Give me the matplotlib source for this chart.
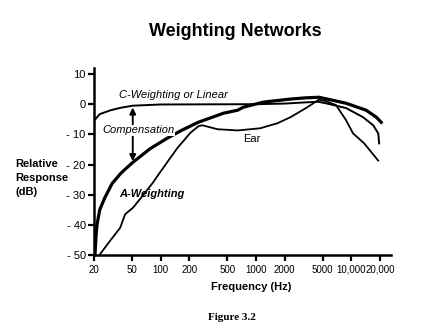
import numpy as np
import matplotlib
matplotlib.use('Agg')
import matplotlib.pyplot as plt

plt.rcParams['font.family'] = ['Liberation Sans', 'DejaVu Sans']

# values (frequency in Hz, response in dB)
c_freq = [20, 23, 30, 38, 51, 100, 1000, 2000, 3300, 4500, 5400, 6900, 8800, 13200, 16900, 19100, 19500]
c_db = [-5.5, -3.3, -2.0, -1.2, -0.5, -0.1, 0.0, 0.2, 0.6, 0.8, 0.3, -0.5, -1.3, -4.3, -7.0, -9.7, -13.0]

a_freq = [20.5, 21, 21.5, 23, 26, 31, 38, 42, 51, 78, 117, 165, 248, 455, 640, 736, 1200, 2300, 3300,
          4560, 8800, 14250, 18200, 20500]
a_db = [-50, -44, -40, -35, -31, -26.3, -23, -21.7, -19.3, -14.7, -11.3, -8.7, -6, -3, -2, -1, 0.7, 1.7, 2.1,
        2.3, 0.3, -2.0, -4.3, -6.0]

ear_freq = [23.2, 29.5, 37.6, 42.4, 51.4, 65, 83, 98, 150, 205, 249, 274, 333, 394, 640, 1100, 1680, 2300,
            3330, 4560, 5400, 6890, 8770, 10400, 13600, 19060]
ear_db = [-49.7, -45.3, -41, -36.5, -34.3, -30.3, -26, -22.7, -14.5, -9.5, -7.3, -7.0, -7.7, -8.3, -8.7, -8.0,
          -6.3, -4.3, -1.3, 1.5, 1.0, -0.3, -5.3, -9.7, -13.0, -18.7]

x_ticks = [20, 50, 100, 200, 500, 1000, 2000, 5000, 10000, 20000]
x_labels = ['20', '50', '100', '200', '500', '1000', '2000', '5000', '10,000', '20,000']
y_ticks = [10, 0, -10, -20, -30, -40, -50]
y_labels = ['10', '0', '- 10', '- 20', '- 30', '- 40', '- 50']

comp_freq = 51  # where the compensation arrow sits

fig = plt.figure(figsize=(4.35, 3.31), dpi=100)
ax = fig.add_axes([0.216, 0.2296, 0.683, 0.565])

ax.plot(c_freq, c_db, color='black', lw=1.4)
ax.plot(a_freq, a_db, color='black', lw=2.3)
ax.plot(ear_freq, ear_db, color='black', lw=1.3)

ax.set_xscale('log')
ax.set_xlim(20, 26000)
ax.set_ylim(-50, 12)
ax.set_xticks(x_ticks)
ax.set_xticklabels(x_labels)
ax.minorticks_off()
ax.set_yticks(y_ticks)
ax.set_yticklabels(y_labels)
ax.tick_params(axis='y', labelsize=8, width=1.6, length=4, color='black', pad=2)
ax.tick_params(axis='x', labelsize=7, width=1.6, length=4, color='black', pad=3)

for side in ['top', 'right']:
    ax.spines[side].set_visible(False)
for side in ['left', 'bottom']:
    ax.spines[side].set_linewidth(1.8)

# compensation arrow between C and A curves
c_at = np.interp(np.log10(comp_freq), np.log10(c_freq), c_db)
a_at = np.interp(np.log10(comp_freq), np.log10(a_freq), a_db)
ax.annotate('', xy=(comp_freq, c_at - 0.6), xytext=(comp_freq, a_at + 0.4),
            arrowprops=dict(arrowstyle='<|-|>', color='black', lw=1.4, mutation_scale=9,
                            shrinkA=0, shrinkB=0))

ax.text(36.6, 3, 'C-Weighting or Linear', fontsize=8, style='italic', ha='left', va='center')
ax.text(24.3, -8.7, 'Compensation', fontsize=8, style='italic', ha='left', va='center',
        bbox=dict(facecolor='white', edgecolor='none', pad=0.3), zorder=5)
ax.text(740, -11.7, 'Ear', fontsize=8, ha='left', va='center')
ax.text(36.6, -29.7, 'A-Weighting', fontsize=8, style='italic', weight='bold', ha='left', va='center',
        zorder=5)

fig.text(0.54, 0.906, 'Weighting Networks', fontsize=13, weight='bold', ha='center', va='center')
fig.text(0.0345, 0.462, 'Relative\nResponse\n(dB)', fontsize=8, weight='bold', ha='left', va='center',
         linespacing=1.45)
fig.text(0.577, 0.133, 'Frequency (Hz)', fontsize=8, weight='bold', ha='center', va='center')
fig.text(0.533, 0.042, 'Figure 3.2', fontsize=8, weight='bold', ha='center', va='center',
         family='Liberation Serif')

fig.savefig('out.png', dpi=100)
